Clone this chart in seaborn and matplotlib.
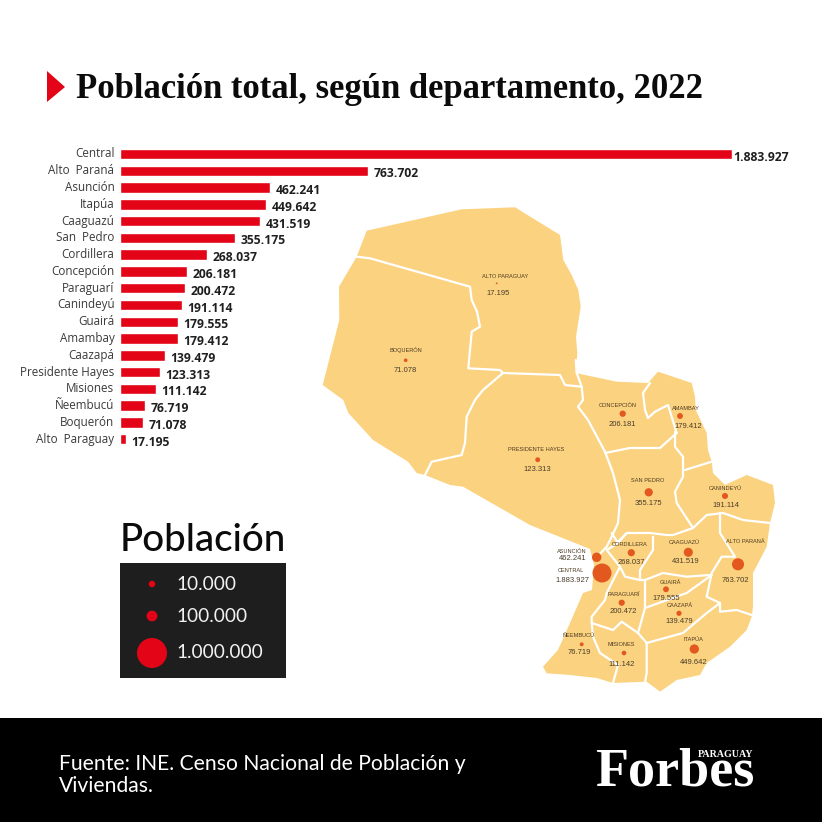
import numpy as np
import pandas as pd
import seaborn as sns
import matplotlib.pyplot as plt
from matplotlib.patches import Polygon, Rectangle

# Datos del censo
departamentos = ["Central", "Alto  Paraná", "Asunción", "Itapúa", "Caaguazú", "San  Pedro",
                 "Cordillera", "Concepción", "Paraguarí", "Canindeyú", "Guairá", "Amambay",
                 "Caazapá", "Presidente Hayes", "Misiones", "Ñeembucú", "Boquerón", "Alto  Paraguay"]
poblacion = [1883927, 763702, 462241, 449642, 431519, 355175, 268037, 206181, 200472,
             191114, 179555, 179412, 139479, 123313, 111142, 76719, 71078, 17195]
nombres_mapa = ["CENTRAL", "ALTO PARANÁ", "ASUNCIÓN", "ITAPÚA", "CAAGUAZÚ", "SAN PEDRO",
                "CORDILLERA", "CONCEPCIÓN", "PARAGUARÍ", "CANINDEYÚ", "GUAIRÁ", "AMAMBAY",
                "CAAZAPÁ", "PRESIDENTE HAYES", "MISIONES", "ÑEEMBUCÚ", "BOQUERÓN", "ALTO PARAGUAY"]
leyenda_valores = [10000, 100000, 1000000]


def puntos(v):
    return f"{v:,}".replace(",", ".")


# Geografia del mapa, en pixeles de la imagen
contorno = [(366.7, 230.7), (461.7, 209.3), (515, 207.3), (560, 235), (563.3, 260), (571.7, 275),
            (578.3, 290), (580.7, 306.7), (576, 336.7), (577.3, 353), (575.7, 373), (616.7, 381.7),
            (648, 383), (658, 371.7), (691.7, 383), (695, 396.7), (695.7, 410), (706.7, 433),
            (708, 450), (711.7, 461.7), (713, 473), (725, 485), (746.7, 475), (773, 485),
            (775, 503), (770, 523), (766.7, 546.7), (753, 573), (753, 606.7), (751.7, 616.7),
            (746.7, 630), (730, 646.7), (706.7, 663), (700, 675), (676.7, 680), (660, 691.7),
            (646.7, 681.7), (613, 683), (596.7, 678), (570, 675), (546.7, 673.3), (543, 666.7),
            (558, 650), (570, 623), (583, 593), (592, 590), (594, 565), (590, 549), (560, 537),
            (530, 525), (463, 486.7), (450, 485), (425, 475), (416.7, 473), (408, 461.7),
            (373, 440), (348.3, 413), (343.3, 400), (322.7, 385), (339.3, 320), (339, 286.7),
            (356.7, 256.7)]
limites = [
    [(356.7, 256.7), (370, 258.3), (470, 286.7), (471.7, 300), (477, 311.7), (480, 326.7),
     (471.7, 331.7), (468.3, 368.3), (500, 370), (503, 373), (560, 375), (565, 385), (581.7, 386.7)],
    [(503, 373), (483, 390), (475, 400), (466.7, 416.7), (465, 443), (461.7, 455), (431.7, 461.7), (425, 475)],
    [(575.7, 360), (576.7, 373), (581.7, 386.7), (583, 400), (578, 406.7), (588, 420), (605, 451.7),
     (613, 473), (620, 500), (618, 523), (611.7, 536.7), (606.7, 546.7), (598, 556)],
    [(605, 453), (630, 448), (660, 448), (676.7, 433)],
    [(676.7, 433), (668, 405), (655, 411.7), (648, 418), (645, 410), (643, 393), (650, 383)],
    [(675, 431.7), (675, 446.7), (683, 456.7), (683, 476.7), (675, 491.7), (676.7, 503), (693, 528)],
    [(685, 470), (711.7, 461.7)],
    [(693, 528), (706.7, 515), (723, 513), (743, 520), (770, 523)],
    [(720, 513), (720, 533), (735, 556.7), (721.7, 556.7), (711.7, 573), (706.7, 596.7), (720, 603),
     (720, 611.7), (736.7, 610), (751.7, 615)],
    [(693, 528), (673, 535), (666.7, 535), (650, 533), (626.7, 533), (618, 543), (611.7, 533)],
    [(626.7, 533), (615, 545), (606.7, 550), (620, 566.7), (625, 576.7), (640, 580), (640, 570),
     (653, 550), (653, 536.7)],
    [(640, 580), (645, 580), (663, 573), (686.7, 576.7), (710, 575)],
    [(645, 580), (645, 608), (686.7, 593), (711.7, 575)],
    [(645, 608), (638, 633), (646.7, 643), (683, 633), (706.7, 613), (720, 603)],
    [(620, 566.7), (606.7, 593), (605, 600), (591.7, 616.7), (591.7, 623), (613, 630), (621.7, 621.7), (638, 633)],
    [(591.7, 623), (593, 636.7), (600, 653), (618, 665), (613, 683)],
    [(646.7, 643), (646.7, 673), (645, 682)],
]
# (x, y) de nombre, punto y valor, en el orden de nombres_mapa
pos_nombre = [(571, 570.5), (745.7, 541.3), (572, 551.3), (693, 639.3), (684.3, 542), (647.3, 480.3),
              (630, 544.7), (617.7, 405.7), (623.3, 594.7), (725.7, 488.3), (670, 582), (686.3, 408.7),
              (679.7, 605.7), (535.7, 449.7), (621.7, 644.3), (579, 635.3), (405.7, 349.7), (504.7, 276)]
pos_punto = [(602, 573), (738, 564.3), (596.7, 557.3), (694.3, 649), (688.3, 552.3), (648.7, 492.3),
             (631.3, 552.7), (622.7, 413.7), (621.7, 602.7), (725, 496), (666, 589.3), (680, 416),
             (679, 613.3), (537.7, 459.7), (624, 653), (581.7, 644.3), (405.7, 360.3), (496.7, 283.3)]
pos_valor = [(572.7, 580), (735.7, 580.7), (572.7, 558.7), (693.7, 662.7), (685.3, 561.7), (648, 503),
             (631, 562), (622.3, 424), (623.7, 611), (726.3, 505.7), (666.3, 598.7), (688.3, 426.7),
             (679, 621), (537.3, 469.3), (621.7, 664), (579, 652.3), (405.3, 370.7), (498, 293.3)]

ROJO = "#E30517"
NARANJA = "#E2581F"
ARENA = "#FBD27F"

sns.set_theme(style="white")
plt.rcParams["font.family"] = ["Open Sans", "DejaVu Sans"]

fig = plt.figure(figsize=(8.22, 8.22), dpi=100, facecolor="white")
ax = fig.add_axes([0, 0, 1, 1])
ax.set_xlim(0, 822)
ax.set_ylim(822, 0)
ax.axis("off")

# Titulo
ax.add_patch(Polygon([(47, 71), (65, 87), (47, 102)], color=ROJO, lw=0))
ax.text(76, 98, "Población total, según departamento, 2022", family="Liberation Serif",
        weight="bold", fontsize=24.9, color="#0b0b0b", va="baseline", ha="left")

# Mapa
ax.add_patch(Polygon(contorno, closed=True, facecolor=ARENA, edgecolor="none"))
for lim in limites:
    xs, ys = zip(*lim)
    ax.plot(xs, ys, color="white", lw=1.6, solid_joinstyle="round", solid_capstyle="round")

mapa = pd.DataFrame({"x": [p[0] for p in pos_punto], "y": [p[1] for p in pos_punto], "pob": poblacion})
d_max = 19 * 0.72  # diametro de Central, en puntos
sns.scatterplot(data=mapa, x="x", y="y", size="pob", sizes=(0, d_max ** 2), size_norm=(0, max(poblacion)),
                color=NARANJA, linewidth=0, legend=False, ax=ax, zorder=3)
ax.set_xlabel("")
ax.set_ylabel("")
for nom, pn, val, pv in zip(nombres_mapa, pos_nombre, poblacion, pos_valor):
    ax.text(pn[0], pn[1], nom, family="Liberation Sans", fontsize=4.1, color="#4d3b22",
            ha="center", va="center", zorder=4)
    ax.text(pv[0], pv[1], puntos(val), family="Liberation Sans", fontsize=5.5, color="#4a3d2a",
            ha="center", va="center", zorder=4)

# Barras
ax_bar = fig.add_axes([120 / 822, 1 - 447.6 / 822, 612 / 822, 302 / 822])
ax_bar.patch.set_alpha(0)
df = pd.DataFrame({"dep": departamentos, "pob": poblacion})
sns.barplot(data=df, y="dep", x="pob", color=ROJO, saturation=1, width=0.62, ax=ax_bar)
ax_bar.set_xlim(0, max(poblacion))
ax_bar.set_ylim(17.5, -0.5)
ax_bar.set_xlabel("")
ax_bar.set_ylabel("")
ax_bar.set_xticks([])
ax_bar.tick_params(axis="y", length=0, pad=4)
ax_bar.set_yticks(range(len(departamentos)))
ax_bar.set_yticklabels(departamentos, fontsize=8.4, color="#3a3a3a", va="center")
sns.despine(ax=ax_bar, left=True, bottom=True)
for i, v in enumerate(poblacion):
    dx = 1.2 if i == 0 else 3.8
    ax_bar.annotate(puntos(v), (v, i), xytext=(dx, -2.2), textcoords="offset points", fontsize=8.7,
                    weight="bold", color="#1f1f1f", va="center", ha="left", annotation_clip=False)

# Leyenda
ax.text(120, 540, "Población", family="Lato", weight="medium", fontsize=27.7, color="#0b0b0b",
        va="center", ha="left")
ax.add_patch(Rectangle((120, 563), 166, 115, color="#1e1e1e", lw=0))
ley = pd.DataFrame({"x": [152, 152, 152], "y": [584, 616, 653], "v": leyenda_valores})
sns.scatterplot(data=ley, x="x", y="y", size="v", sizes={10000: 22, 100000: 60, 1000000: 466},
                color=ROJO, linewidth=0, legend=False, ax=ax, zorder=3)
ax.set_xlabel("")
ax.set_ylabel("")
for v, y in zip(leyenda_valores, [584, 616, 652]):
    ax.text(176, y, puntos(v), family="Lato", fontsize=13.7, color="#f2f2f2", va="center", ha="left")

# Pie de pagina
ax.add_patch(Rectangle((0, 718), 822, 104, color="black", lw=0))
ax.text(59, 764, "Fuente: INE. Censo Nacional de Población y", family="Lato", fontsize=15.2,
        color="white", va="center", ha="left")
ax.text(59, 786, "Viviendas.", family="Lato", fontsize=15.2, color="white", va="center", ha="left")
ax.text(595, 772, "Forbes", family="Liberation Serif", weight="bold", fontsize=39, color="white",
        va="center", ha="left")
ax.text(753, 754, "PARAGUAY", family="Liberation Serif", weight="bold", fontsize=7.2, color="white",
        va="center", ha="right")

fig.savefig("out.png", dpi=100, facecolor="white")
